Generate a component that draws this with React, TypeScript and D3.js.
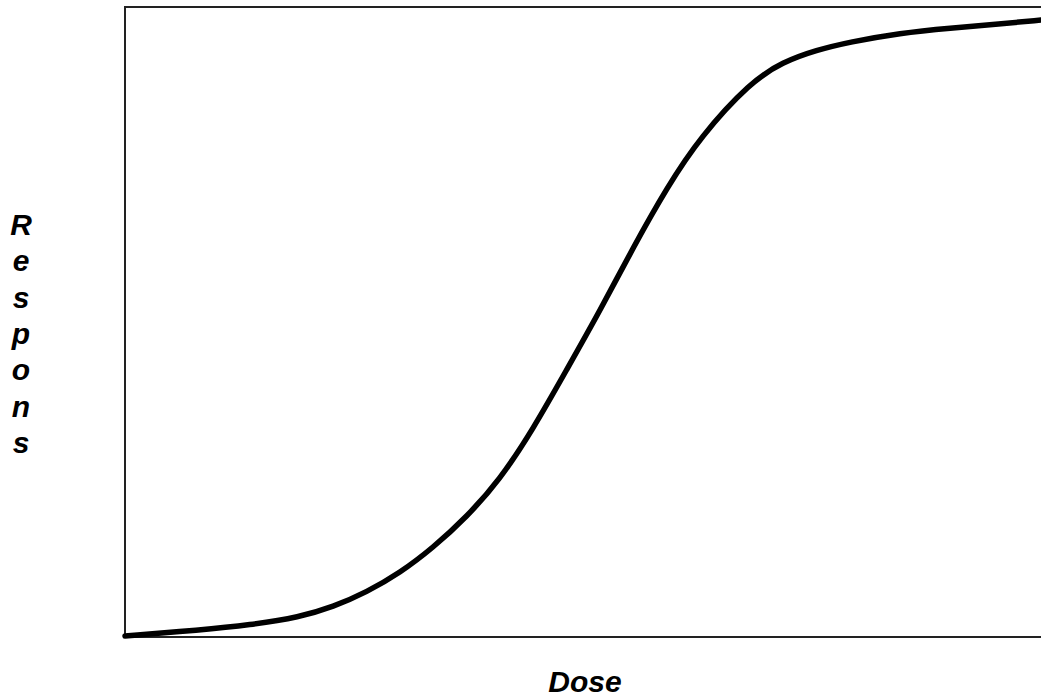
import React, { useEffect, useRef } from 'react';
import * as d3 from 'd3';

// dose (arbitrary units) and response (% of max)
const doses = [0, 0.82, 1.36, 1.91, 2.27, 2.64, 3.0, 3.36, 3.73, 4.09, 4.45, 4.82, 5.19, 5.55, 5.92, 6.28, 6.83, 7.18, 7.55, 7.91, 8.46, 9.01, 9.55, 10];
const responses = [0.16, 1.11, 1.9, 3.17, 4.76, 7.14, 10.16, 14.13, 19.05, 24.92, 32.86, 42.38, 51.9, 61.9, 71.43, 79.37, 88.1, 91.27, 93.17, 94.44, 95.87, 96.67, 97.3, 97.94];
const xLabel = 'Dose';
const yLabel = 'Respons';

const App = ({ width = 1041, height = 700 }) => {
  const chart = useRef<SVGSVGElement>(null);

  useEffect(() => {
    const margin = { top: 7, left: 125, bottom: 63, right: 0 };
    const iwidth = width - margin.left - margin.right;
    const iheight = height - margin.top - margin.bottom;

    d3.select(chart.current).selectAll('g').remove();

    const svg = d3.select(chart.current);
    svg.attr('width', width).attr('height', height);

    const g = svg
      .append('g')
      .attr('transform', `translate(${margin.left},${margin.top})`);

    const x = d3.scaleLinear().domain([0, 10]).range([0, iwidth]);
    const y = d3.scaleLinear().domain([0, 100]).range([iheight, 0]);

    // frame (right side runs off the page)
    g.append('path')
      .attr('d', `M${iwidth + 10},0H0V${iheight}H${iwidth + 10}`)
      .attr('fill', 'none')
      .attr('stroke', '#222')
      .attr('stroke-width', 2);

    const data = doses.map((d, i) => ({ dose: d, resp: responses[i] }));

    const line = d3
      .line<{ dose: number; resp: number }>()
      .x((d) => x(d.dose))
      .y((d) => y(d.resp))
      .curve(d3.curveBasis);

    g.append('path')
      .datum(data)
      .attr('d', line)
      .attr('fill', 'none')
      .attr('stroke', '#000')
      .attr('stroke-width', 5.5)
      .attr('stroke-linecap', 'round');

    const labels = svg
      .append('g')
      .style('font-family', '"Liberation Sans", Arial, sans-serif')
      .style('font-weight', 'bold')
      .style('font-style', 'italic')
      .style('font-size', '30px')
      .attr('fill', '#000');

    labels
      .append('text')
      .attr('x', 585)
      .attr('y', 692)
      .attr('text-anchor', 'middle')
      .text(xLabel);

    labels
      .selectAll('text.ylab')
      .data(yLabel.split(''))
      .enter()
      .append('text')
      .attr('class', 'ylab')
      .attr('x', 21)
      .attr('y', (d, i) => 235 + i * 36.3)
      .attr('text-anchor', 'middle')
      .text((d) => d);
  });

  return (
    <div id="chartArea" style={{ position: 'absolute', left: 0, top: 0, background: '#fff' }}>
      <svg ref={chart} style={{ display: 'block' }}></svg>
    </div>
  );
};

export default App;
